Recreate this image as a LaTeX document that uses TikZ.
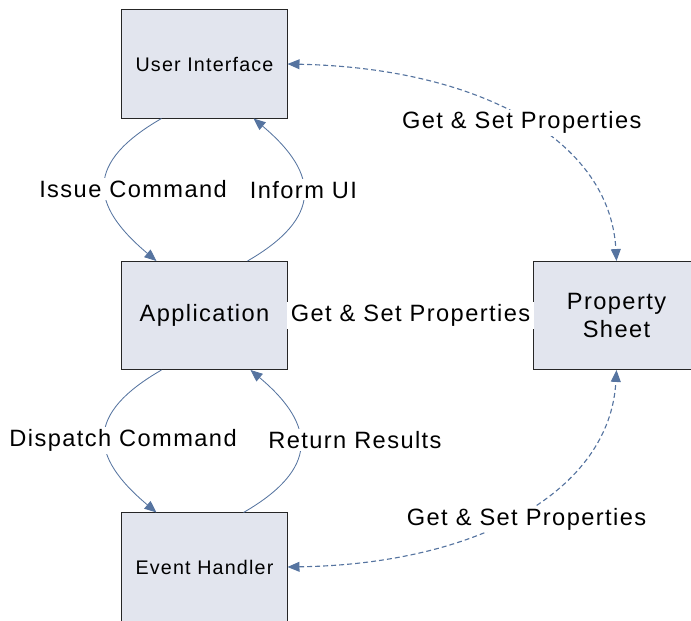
\documentclass[tikz,border=0pt]{standalone}
\usepackage{fontspec}
\setmainfont{Liberation Sans}[LetterSpace=6]
\usetikzlibrary{arrows.meta}
\definecolor{linkblue}{RGB}{86,116,160}
\definecolor{boxfill}{RGB}{226,229,238}

\begin{document}
\begin{tikzpicture}[x=0.025cm,y=0.025cm,>={Triangle[length=8.5pt,width=7pt]},
    block/.style={draw=black!85,fill=boxfill,line width=0.7pt,minimum width=4.125cm,minimum height=2.7cm,align=center,inner sep=0pt},
    small/.style={font=\fontsize{14}{17}\selectfont},
    big/.style={font=\fontsize{16.8}{20}\selectfont},
    link/.style={draw=linkblue,line width=0.6pt},
    dlink/.style={link,line width=0.8pt,dash pattern=on 3.5pt off 2.2pt},
    lbl/.style={fill=white,inner sep=1.5pt,font=\fontsize{16.8}{20}\selectfont}]
\useasboundingbox (0,0) rectangle (691,620);
\draw
    node at (204.5,556)[block,small,name=ui]{User Interface}
    node at (204.5,304.5)[block,big,name=app]{Application}
    node at (204.5,53)[block,small,name=eh]{Event Handler}
    node at (616.5,304.5)[block,big,name=ps]{Property\\Sheet}
;

    % command loop between UI and application
    \draw[link,->]([xshift=1cm]ui.south west) to[out=210,in=140,looseness=1.58]
        node[lbl,xshift=0.7cm,yshift=-0.1cm]{Issue Command} ([xshift=0.875cm]app.north west);
    \draw[link,->]([xshift=-1cm]app.north east) to[out=30,in=-40,looseness=1.55]
        node[lbl,yshift=0.12cm]{Inform UI} ([xshift=-0.85cm]ui.south east);

    % dispatch loop between application and event handler
    \draw[link,->]([xshift=1cm]app.south west) to[out=210,in=140,looseness=1.58]
        node[lbl,xshift=0.45cm,yshift=-0.1cm]{Dispatch Command} ([xshift=0.875cm]eh.north west);
    \draw[link,->]([xshift=-1.1cm]eh.north east) to[out=30,in=-40,looseness=1.55]
        node[lbl,xshift=1.375cm,yshift=0.15cm]{Return Results} ([xshift=-0.925cm]app.south east);

    % property sheet links
    \draw[dlink,<->](ui.east) .. controls (480,552) and (610,480) .. (ps.north)
        node[lbl,pos=0.5,yshift=-0.1cm]{Get \& Set Properties};
    \draw[dlink](app) -- node[lbl,inner xsep=3pt]{Get \& Set Properties} (ps);
    \draw[dlink,<->](eh.east) .. controls (480,56) and (610,130) .. (ps.south)
        node[lbl,pos=0.5,xshift=0.12cm,yshift=-0.175cm]{Get \& Set Properties};
\end{tikzpicture}
\end{document}
